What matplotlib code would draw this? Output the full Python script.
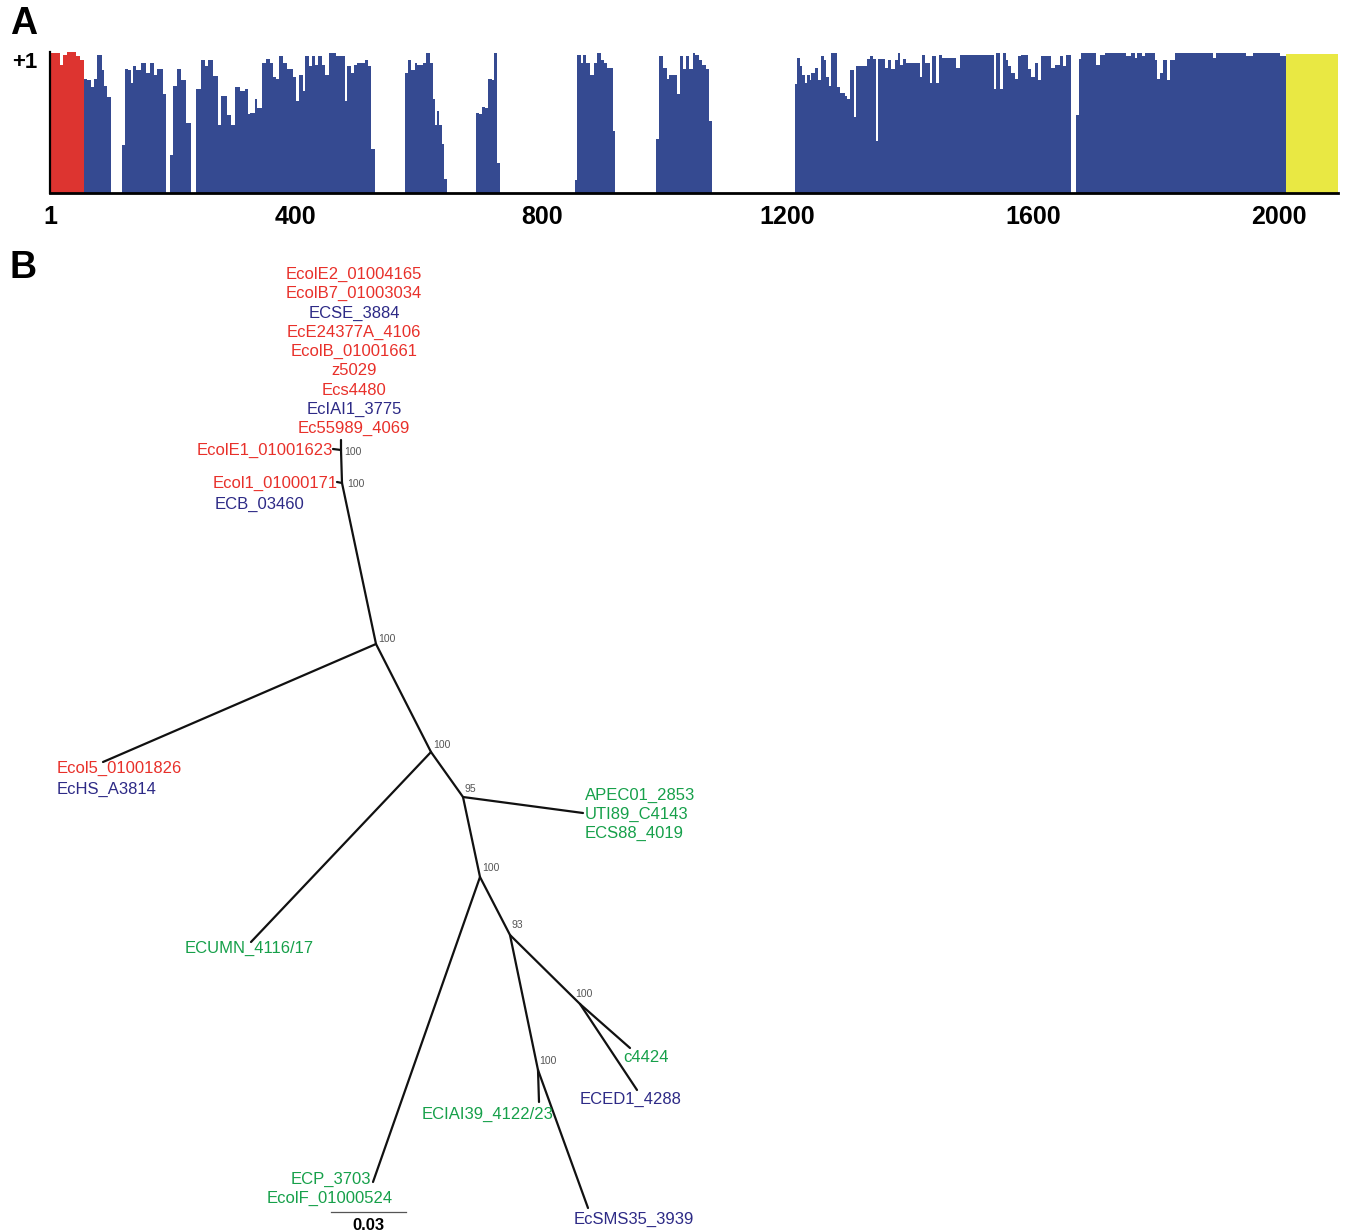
import matplotlib
matplotlib.use('Agg')
import matplotlib.pyplot as plt
import matplotlib.transforms as mtransforms

plt.rcParams['font.family'] = ['Liberation Sans', 'DejaVu Sans']

### PANEL A DATA: conservation profile (step edges in residue positions, heights 0..1) ###
red_pos = [1, 17, 21, 27, 43, 48, 56]
red_val = [0.99, 0.91, 0.98, 1.0, 0.97, 0.94]

seg1_pos = [56, 61, 67, 72, 77, 85, 88, 93, 99]
seg1_val = [0.81, 0.80, 0.75, 0.81, 0.98, 0.87, 0.76, 0.68]

seg2_pos = [117, 122.5, 127, 131, 135.5, 140.5, 148.5, 156.5, 162, 169, 174.5, 184, 189]
seg2_val = [0.34, 0.88, 0.87, 0.78, 0.90, 0.87, 0.92, 0.85, 0.92, 0.84, 0.88, 0.70]

seg3_pos = [194.5, 200, 207, 213.5, 222, 229]
seg3_val = [0.27, 0.76, 0.88, 0.80, 0.50]

seg4_pos = [238, 246, 251.5, 257, 265, 273, 278.5, 288.5, 294, 301.5, 308.5, 316.5, 322, 325,
            333, 337, 345, 352, 358, 363, 368, 373, 378.5, 385, 396, 401, 405.5, 411, 415, 422,
            427, 431, 436.5, 442, 447, 454, 465, 480, 484, 489, 494.5, 500, 512, 518, 523, 528.7]
seg4_val = [0.74, 0.94, 0.90, 0.94, 0.83, 0.48, 0.69, 0.55, 0.48, 0.75, 0.72, 0.74, 0.56, 0.57,
            0.67, 0.60, 0.92, 0.95, 0.92, 0.82, 0.81, 0.97, 0.92, 0.88, 0.82, 0.65, 0.84, 0.72, 0.97,
            0.90, 0.97, 0.91, 0.97, 0.91, 0.84, 0.995, 0.97, 0.65, 0.90, 0.85, 0.91, 0.92, 0.94, 0.90,
            0.31]

seg5_pos = [577.5, 583, 588, 593.5, 597.5, 607.5, 612.5, 618, 622.5, 626.5, 629, 633.5, 637, 641, 646.3]
seg5_val = [0.85, 0.94, 0.87, 0.92, 0.91, 0.92, 0.995, 0.92, 0.67, 0.48, 0.58, 0.48, 0.35, 0.10]

seg6_pos = [693, 698.4, 702.2, 707.6, 713, 718.4, 722.2, 727.7, 732]
seg6_val = [0.57, 0.56, 0.61, 0.60, 0.81, 0.80, 0.995, 0.21]

seg7_pos = [854, 857.8, 863.8, 867.5, 871.9, 878.4, 884.9, 889.2, 895.7, 901.2, 906.6, 916.3, 919.1]
seg7_val = [0.09, 0.98, 0.92, 0.98, 0.92, 0.84, 0.92, 0.995, 0.94, 0.92, 0.89, 0.44]

seg8_pos = [985.8, 991.2, 997.7, 1003.1, 1007.4, 1020.4, 1024.8, 1029.1, 1034.5, 1038.9, 1045.4,
            1049.2, 1056.2, 1061.6, 1067.1, 1072.5, 1076.3]
seg8_val = [0.38, 0.97, 0.89, 0.81, 0.84, 0.70, 0.97, 0.88, 0.97, 0.88, 0.995, 0.98, 0.94, 0.91,
            0.88, 0.51]

seg9_pos = [1211.7, 1215.5, 1219.9, 1224.2, 1228, 1231.8, 1236.1, 1238.8, 1244.3, 1249.7, 1255.1,
            1258.9, 1263.2, 1267.6, 1271.4, 1280.6, 1286, 1293.1, 1296.9, 1301.2, 1307.7, 1312,
            1329.4, 1333.7, 1339.2, 1343.5, 1347.3, 1358.1, 1363.6, 1369, 1374.4, 1379.8, 1383.6,
            1387.9, 1393.4, 1415, 1419.4, 1423.2, 1431.3, 1435.7, 1441.1, 1446.5, 1451.9, 1474.7,
            1480.1, 1535.4, 1539.8, 1545.2, 1550.6, 1555, 1558.7, 1564.2, 1569.6, 1575, 1580.4,
            1591.3, 1596.7, 1602.1, 1607.5, 1613, 1629.2, 1634.6, 1642.8, 1648.2, 1652.6, 1661.8]
seg9_val = [0.77, 0.96, 0.90, 0.84, 0.78, 0.84, 0.80, 0.85, 0.89, 0.80, 0.97, 0.94, 0.82, 0.76,
            0.995, 0.75, 0.71, 0.69, 0.67, 0.87, 0.54, 0.90, 0.95, 0.97, 0.95, 0.37, 0.95, 0.89,
            0.94, 0.88, 0.94, 0.995, 0.91, 0.95, 0.92, 0.82, 0.98, 0.92, 0.78, 0.97, 0.78, 0.98,
            0.96, 0.89, 0.976, 0.74, 0.995, 0.74, 0.995, 0.94, 0.90, 0.85, 0.81, 0.97, 0.98, 0.88,
            0.82, 0.92, 0.80, 0.97, 0.89, 0.91, 0.97, 0.90, 0.98]

seg10_pos = [1669.9, 1674.3, 1678, 1702.4, 1709, 1716, 1751, 1759, 1765, 1769, 1776, 1781, 1797.3,
             1801.1, 1805.5, 1810.9, 1817.4, 1821.7, 1829.9, 1892.2, 1897.6, 1946.4, 1957.3, 2000.7,
             2010.4]
seg10_val = [0.55, 0.95, 0.99, 0.91, 0.98, 0.995, 0.97, 0.995, 0.96, 0.995, 0.97, 0.995, 0.94,
             0.81, 0.85, 0.94, 0.80, 0.94, 0.99, 0.96, 0.995, 0.97, 0.995, 0.97]

yellow_pos = [2010.4, 2095.6]
yellow_val = [0.985]

tick_pos = [1, 400, 800, 1200, 1600, 2000]
tick_lab = ['1', '400', '800', '1200', '1600', '2000']

### PANEL B DATA: unrooted tree (node coordinates in substitutions/site) ###
node_names = ['n1', 'n2', 'EcolE1', 'n3', 'Ecol1', 'n4', 'Ecol5', 'n5', 'ECUMN', 'n6', 'APEC',
              'n7', 'ECP', 'n8', 'n9', 'c4424', 'ECED1', 'n10', 'ECIAI39', 'EcSMS35']
node_x = [-0.0140, -0.0140, -0.0172, -0.0136, -0.0156, 0.0, -0.1092, 0.0220, -0.0500, 0.0348,
          0.0828, 0.0416, -0.0012, 0.0536, 0.0816, 0.1016, 0.1044, 0.0648, 0.0652, 0.0848]
node_y = [0.0816, 0.0776, 0.0780, 0.0644, 0.0648, 0.0, -0.0472, -0.0432, -0.1192, -0.0612,
          -0.0676, -0.0932, -0.2152, -0.1164, -0.1440, -0.1616, -0.1784, -0.1704, -0.1832, -0.2256]

edge_parent = ['n2', 'n2', 'n3', 'n3', 'n4', 'n4', 'n4', 'n5', 'n5', 'n6', 'n6', 'n7', 'n7',
               'n8', 'n9', 'n9', 'n8', 'n10', 'n10']
edge_child = ['n1', 'EcolE1', 'n2', 'Ecol1', 'n3', 'Ecol5', 'n5', 'ECUMN', 'n6', 'APEC', 'n7',
              'ECP', 'n8', 'n9', 'c4424', 'ECED1', 'n10', 'ECIAI39', 'EcSMS35']

support_nodes = ['n2', 'n3', 'n4', 'n5', 'n6', 'n7', 'n8', 'n9', 'n10']
support_vals = [100, 100, 100, 100, 95, 100, 93, 100, 100]

top_cluster = ['EcolE2_01004165', 'EcolB7_01003034', 'ECSE_3884', 'EcE24377A_4106',
               'EcolB_01001661', 'z5029', 'Ecs4480', 'EcIAI1_3775', 'Ec55989_4069']
top_group = ['r', 'r', 'b', 'r', 'r', 'r', 'r', 'b', 'r']

scale_len = 0.03

### STYLE ###
W, H = 1345, 1232
BLUE = '#354a91'
RED_BAR = '#dd3430'
YELLOW = '#e9e843'
group_col = {'r': '#e8302a', 'b': '#2d2a86', 'g': '#16a04a'}
PX = 0.72  # points per pixel at dpi 100

fig = plt.figure(figsize=(W / 100, H / 100), dpi=100)

# ---- panel A ----
ax = fig.add_axes([50 / W, 1 - 193 / H, 1288 / W, 141 / H])
ax.stairs(red_val, red_pos, fill=True, color=RED_BAR, linewidth=0)
blue_segments = [(seg1_pos, seg1_val), (seg2_pos, seg2_val), (seg3_pos, seg3_val),
                 (seg4_pos, seg4_val), (seg5_pos, seg5_val), (seg6_pos, seg6_val),
                 (seg7_pos, seg7_val), (seg8_pos, seg8_val), (seg9_pos, seg9_val),
                 (seg10_pos, seg10_val)]
for pos, val in blue_segments:
    ax.stairs(val, pos, fill=True, color=BLUE, linewidth=0)
ax.stairs(yellow_val, yellow_pos, fill=True, color=YELLOW, linewidth=0)

ax.set_xlim(0, 2095.6)
ax.set_ylim(0, 1)
for s in ['top', 'right']:
    ax.spines[s].set_visible(False)
ax.spines['left'].set_linewidth(1.6)
ax.spines['bottom'].set_linewidth(2.0)
ax.set_xticks(tick_pos)
ax.set_xticklabels(tick_lab, fontsize=18, fontweight='bold')
ax.tick_params(axis='x', length=0, pad=9)
ax.set_yticks([])
trans = mtransforms.blended_transform_factory(fig.transFigure, ax.transData)
ax.text(37 / W, 1.0, '+1', transform=trans, ha='right', va='top', fontsize=16,
        fontweight='bold')

fig.text(10 / W, 1 - 6 / H, 'A', ha='left', va='top', fontsize=27, fontweight='bold')
fig.text(10 / W, 1 - 250 / H, 'B', ha='left', va='top', fontsize=27, fontweight='bold')

# ---- panel B: tree ----
ax2 = fig.add_axes([0, 0, 1, (H - 240) / H])
ax2.set_xlim((0 - 376) / 2500, (W - 376) / 2500)
ax2.set_ylim((644 - H) / 2500, (644 - 240) / 2500)
ax2.axis('off')

pos = {n: (x, y) for n, x, y in zip(node_names, node_x, node_y)}
for p, c in zip(edge_parent, edge_child):
    ax2.plot([pos[p][0], pos[c][0]], [pos[p][1], pos[c][1]], color='#111111', lw=1.6,
             solid_capstyle='round')

# bootstrap values (offsets in px)
sup_off = {'n2': (3, -2), 'n3': (5, -1), 'n4': (2, 5), 'n5': (2, 7), 'n6': (1, 8),
           'n7': (2, 9), 'n8': (1, 10), 'n9': (-5, 10), 'n10': (1, 9)}
for n, v in zip(support_nodes, support_vals):
    dx, dy = sup_off[n]
    ax2.annotate(str(v), pos[n], xytext=(dx * PX, dy * PX), textcoords='offset points',
                 fontsize=7.5, color='#555555', ha='left', va='center')


def leaf(node, text, grp, dx, dy, ha):
    ax2.annotate(text, pos[node], xytext=(dx * PX, -dy * PX), textcoords='offset points',
                 fontsize=12, color=group_col[grp], ha=ha, va='center_baseline')


for k, (t, g) in enumerate(zip(top_cluster, top_group)):
    leaf('n1', t, g, 13, -(13 + (8 - k) * 19.25), 'center')
leaf('EcolE1', 'EcolE1_01001623', 'r', 0, 0, 'right')
leaf('Ecol1', 'Ecol1_01000171', 'r', 1, 0, 'right')
leaf('Ecol1', 'ECB_03460', 'b', -78, 21, 'center')
leaf('Ecol5', 'Ecol5_01001826', 'r', -46, 5, 'left')
leaf('Ecol5', 'EcHS_A3814', 'b', -46, 26, 'left')
leaf('APEC', 'APEC01_2853', 'g', 2, -19, 'left')
leaf('APEC', 'UTI89_C4143', 'g', 2, 0, 'left')
leaf('APEC', 'ECS88_4019', 'g', 2, 19, 'left')
leaf('ECUMN', 'ECUMN_4116/17', 'g', -2, 5, 'center')
leaf('c4424', 'c4424', 'g', -7, 8, 'left')
leaf('ECED1', 'ECED1_4288', 'b', -57, 8, 'left')
leaf('ECIAI39', 'ECIAI39_4122/23', 'g', -51, 11, 'center')
leaf('ECP', 'ECP_3703', 'g', -2, -4, 'right')
leaf('ECP', 'EcolF_01000524', 'g', -43, 15, 'center')
leaf('EcSMS35', 'EcSMS35_3939', 'b', -14, 10, 'left')

# scale bar
sb_x0 = (331 - 376) / 2500
sb_y = (644 - 1212) / 2500
ax2.plot([sb_x0, sb_x0 + scale_len], [sb_y, sb_y], color='#555555', lw=0.9)
ax2.annotate(f'{scale_len:.2f}', (sb_x0 + scale_len / 2, sb_y), xytext=(0, -13 * PX),
             textcoords='offset points', ha='center', va='center', fontsize=12,
             fontweight='bold')

fig.savefig('out.png', dpi=100)
